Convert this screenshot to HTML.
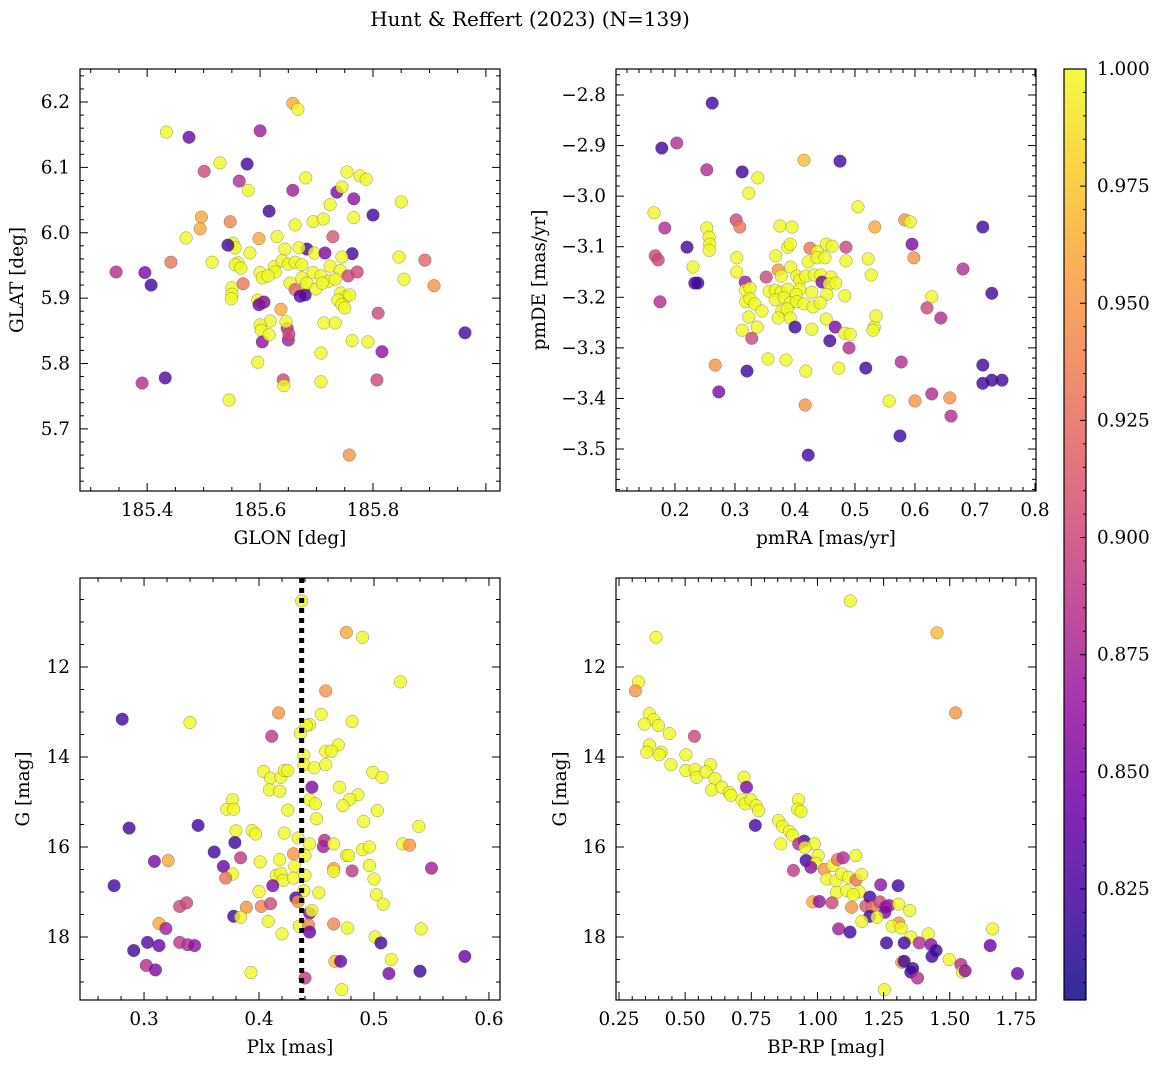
<!DOCTYPE html>
<html><head><meta charset="utf-8"><style>
html,body{margin:0;padding:0;background:#fff;}
svg{display:block;font-family:"DejaVu Serif","Liberation Serif",serif;}
</style></head><body>
<svg id="fig" width="1161" height="1068" viewBox="0 0 1161 1068" xmlns="http://www.w3.org/2000/svg">
<defs>
<linearGradient id="plasmaGrad" x1="0" y1="1" x2="0" y2="0">
<stop offset="0" stop-color="#0d0887"/><stop offset="0.1" stop-color="#41049d"/><stop offset="0.2" stop-color="#6a00a8"/><stop offset="0.3" stop-color="#8f0da4"/><stop offset="0.4" stop-color="#b12a90"/><stop offset="0.5" stop-color="#cc4778"/><stop offset="0.6" stop-color="#e16462"/><stop offset="0.7" stop-color="#f2844b"/><stop offset="0.8" stop-color="#fca636"/><stop offset="0.9" stop-color="#fcce25"/><stop offset="1" stop-color="#f0f921"/>
</linearGradient>
</defs>
<text x="530" y="26" font-size="20" text-anchor="middle">Hunt &amp; Reffert (2023) (N=139)</text>
</svg>
<script>
// ---- Panel 1: GLON vs GLAT ----
const glonVals=[185.434,185.474,185.600,185.658,185.667,185.529,185.577,185.501,185.563,185.579,185.658,185.681,185.736,185.754,185.777,185.788,185.766,185.850,185.800,185.616,185.496,185.547,185.494,185.469,185.694,185.712,185.766,185.724,185.745,185.662,185.598,185.630,185.552,185.556,185.543,185.729,185.683,185.644,185.669,185.696,185.715,185.763,185.745,185.582,185.515,185.442,185.345,185.396,185.407,185.561,185.556,185.566,185.625,185.627,185.639,185.650,185.662,185.674,185.694,185.708,185.724,185.742,185.756,185.772,185.722,185.733,185.846,185.855,185.892,185.674,185.676,185.680,185.683,185.699,185.710,185.550,185.550,185.549,185.570,185.600,185.604,185.614,185.653,185.662,185.671,185.743,185.752,185.759,185.738,185.745,185.750,185.908,185.963,185.596,185.604,185.598,185.607,185.618,185.637,185.648,185.650,185.646,185.651,185.600,185.602,185.604,185.616,185.596,185.809,185.713,185.733,185.763,185.791,185.816,185.708,185.641,185.642,185.708,185.807,185.545,185.758,185.432,185.391];
const glatVals=[6.154,6.146,6.156,6.198,6.189,6.107,6.105,6.094,6.079,6.065,6.065,6.084,6.062,6.093,6.087,6.082,6.052,6.047,6.027,6.033,6.024,6.017,6.006,5.992,6.017,6.021,6.023,6.043,6.070,6.012,5.991,5.994,5.984,5.977,5.981,5.994,5.975,5.975,5.977,5.969,5.969,5.968,5.963,5.969,5.955,5.955,5.940,5.939,5.920,5.954,5.951,5.946,5.948,5.940,5.957,5.952,5.955,5.951,5.939,5.934,5.949,5.942,5.934,5.940,5.926,5.929,5.963,5.929,5.958,5.931,5.913,5.905,5.923,5.914,5.923,5.916,5.906,5.899,5.922,5.939,5.931,5.934,5.923,5.913,5.903,5.908,5.902,5.905,5.897,5.890,5.885,5.919,5.847,5.897,5.893,5.890,5.894,5.865,5.883,5.854,5.836,5.864,5.845,5.859,5.851,5.833,5.844,5.802,5.877,5.862,5.862,5.835,5.833,5.818,5.816,5.775,5.766,5.772,5.775,5.744,5.660,5.778,5.770];
const prob1=[1,.84,.87,.96,1,1,.82,.9,.88,1,.87,1,.85,1,1,1,.86,1,.82,.82,.96,.94,.96,1,1,1,1,1,1,1,.96,1,1,1,.82,.91,.82,1,1,1,.85,.82,1,1,1,.93,.88,.85,.82,1,1,1,1,1,1,1,1,1,1,1,1,1,.9,.9,1,1,1,1,.92,1,1,.83,1,1,1,1,1,1,.93,1,1,1,1,.92,.83,1,1,1,1,1,1,.95,.82,1,1,.84,.86,1,.96,.88,.87,1,.9,1,1,.86,1,1,.9,1,1,1,1,.86,1,.9,1,1,.9,1,.95,.83,.88];
// ---- Panel 2: pmRA vs pmDE ----
const pmraVals=[.262,.178,.203,.312,.338,.323,.253,.415,.475,.165,.505,.302,.308,.253,.257,.258,.257,.375,.395,.533,.583,.592,.713,.183,.595,.598,.167,.172,.220,.303,.303,.388,.392,.425,.485,.452,.462,.437,.422,.437,.450,.485,.522,.527,.230,.368,.372,.377,.352,.393,.403,.408,.418,.432,.443,.460,.445,.457,.468,.233,.238,.317,.317,.325,.357,.367,.377,.388,.408,.318,.325,.333,.367,.382,.402,.428,.453,.483,.175,.323,.345,.378,.392,.403,.415,.430,.442,.372,.387,.312,.337,.392,.400,.428,.452,.467,.458,.483,.492,.532,.535,.530,.628,.620,.643,.328,.490,.355,.385,.418,.473,.267,.320,.518,.577,.713,.713,.728,.745,.557,.600,.658,.417,.628,.660,.575,.273,.422,.728,.680];
const pmdeVals=[-2.816,-2.905,-2.895,-2.952,-2.964,-2.994,-2.948,-2.929,-2.931,-3.033,-3.021,-3.047,-3.061,-3.063,-3.081,-3.095,-3.107,-3.059,-3.061,-3.061,-3.047,-3.051,-3.061,-3.063,-3.095,-3.122,-3.118,-3.126,-3.101,-3.122,-3.150,-3.101,-3.095,-3.103,-3.101,-3.095,-3.099,-3.110,-3.130,-3.122,-3.122,-3.128,-3.124,-3.156,-3.140,-3.118,-3.146,-3.158,-3.160,-3.140,-3.158,-3.166,-3.158,-3.156,-3.156,-3.160,-3.170,-3.174,-3.172,-3.172,-3.172,-3.170,-3.186,-3.182,-3.188,-3.186,-3.190,-3.184,-3.184,-3.209,-3.203,-3.213,-3.205,-3.201,-3.194,-3.190,-3.194,-3.197,-3.209,-3.239,-3.227,-3.227,-3.211,-3.209,-3.213,-3.219,-3.211,-3.241,-3.223,-3.265,-3.259,-3.241,-3.259,-3.263,-3.243,-3.259,-3.286,-3.271,-3.273,-3.259,-3.237,-3.265,-3.199,-3.221,-3.241,-3.281,-3.300,-3.322,-3.324,-3.346,-3.340,-3.334,-3.346,-3.340,-3.328,-3.334,-3.370,-3.364,-3.364,-3.405,-3.405,-3.399,-3.413,-3.391,-3.435,-3.474,-3.387,-3.512,-3.192,-3.144];
const prob2=[.82,.82,.88,.82,1,1,.88,.97,.82,1,1,.9,.93,1,1,1,1,1,1,.96,.95,1,.82,.88,.85,.95,.9,.9,.82,1,1,1,1,.93,.9,1,1,1,1,1,1,1,1,1,1,1,.95,1,.9,1,1,1,1,1,1,1,.85,1,1,.82,.82,.87,1,1,1,1,1,1,1,1,1,1,1,1,1,1,1,1,.88,1,1,1,1,1,1,1,1,1,1,1,1,1,.82,1,1,.85,.82,1,1,1,1,1,1,.9,.88,.9,.88,1,1,1,1,.95,.82,.82,.88,.82,.82,.82,.82,1,.95,.95,.95,.88,.88,.82,.85,.82,.82,.88];
// ---- Panel 3: Plx vs G ----
const plxVals=[.4371,.476,.490,.523,.458,.417,.281,.340,.454,.481,.444,.441,.411,.436,.469,.458,.463,.439,.439,.448,.458,.404,.410,.419,.422,.425,.409,.418,.446,.470,.486,.479,.473,.444,.449,.450,.425,.499,.507,.503,.491,.377,.372,.378,.539,.287,.347,.380,.394,.397,.422,.434,.444,.457,.456,.465,.379,.361,.384,.309,.321,.401,.418,.430,.440,.476,.478,.490,.496,.525,.531,.431,.465,.465,.481,.496,.550,.369,.377,.371,.415,.419,.421,.430,.440,.500,.274,.412,.400,.439,.432,.434,.452,.502,.508,.331,.337,.389,.402,.410,.378,.384,.444,.446,.408,.313,.319,.435,.443,.465,.444,.477,.541,.420,.501,.506,.291,.303,.313,.331,.338,.344,.302,.310,.393,.466,.471,.515,.579,.513,.540,.440,.472];
const gmag3=[10.53,11.23,11.34,12.33,12.53,13.02,13.16,13.23,13.05,13.21,13.28,13.30,13.54,13.47,13.73,13.87,13.87,13.96,14.17,14.24,14.17,14.32,14.47,14.45,14.30,14.30,14.73,14.76,14.67,14.67,14.84,14.94,15.08,14.95,15.04,15.37,15.18,14.34,14.45,15.19,15.43,14.95,15.16,15.16,15.54,15.58,15.52,15.64,15.63,15.71,15.69,15.80,15.93,15.85,15.99,15.93,15.90,16.11,16.24,16.32,16.30,16.33,16.28,16.15,16.19,16.19,16.19,16.06,16.00,15.93,15.96,16.43,16.48,16.54,16.53,16.41,16.47,16.43,16.60,16.69,16.63,16.59,16.74,16.69,16.63,16.71,16.86,16.86,16.99,16.97,17.13,17.21,17.02,17.06,17.27,17.32,17.24,17.34,17.32,17.26,17.54,17.56,17.47,17.41,17.65,17.70,17.81,17.76,17.73,17.71,17.89,17.80,17.82,17.93,18.00,18.13,18.30,18.12,18.19,18.12,18.17,18.19,18.63,18.73,18.79,18.54,18.54,18.50,18.43,18.81,18.76,18.91,19.17];
const prob3=[1,.96,1,1,.95,.95,.82,1,1,1,1,1,.89,1,1,1,1,1,1,1,1,1,1,1,1,1,1,1,.85,1,1,1,1,1,1,1,1,1,1,1,1,1,1,1,1,.82,.82,1,1,1,1,1,1,.88,.87,1,.82,.82,.89,.85,.96,1,1,.95,1,1,1,1,1,1,.95,1,.96,1,.89,1,.87,.84,1,.93,1,1,1,1,1,1,.82,.85,1,1,.82,.95,1,1,1,.9,.9,.95,.94,.9,.82,1,.85,1,1,.96,.87,1,.94,.94,.84,1,1,1,1,.82,.82,.83,.84,.89,.88,.86,.88,.85,1,.97,.84,1,.84,.85,.82,.89,1];
const plxRef=[0.4371];
// ---- Panel 4: BP-RP vs G ----
const bprpVals=[1.124,1.452,.390,.324,.312,1.522,.365,.381,.399,.346,.440,.535,.365,.355,.409,.402,.503,.446,.503,.538,.543,.596,.579,.613,.600,.639,.667,.673,.723,.732,.715,.727,.749,.768,.778,.765,.928,.925,.938,.853,.868,.894,.906,.862,.950,.929,.988,.953,.957,1.003,.994,.975,.909,1.026,1.057,1.076,1.097,1.145,1.035,1.070,1.092,1.117,1.146,1.167,1.072,1.111,1.158,1.135,1.239,1.305,.982,1.007,1.055,1.129,1.183,1.198,1.208,1.236,1.258,1.271,1.255,1.307,1.349,1.198,1.225,1.168,1.307,1.282,1.316,1.080,1.123,1.353,1.419,1.662,1.261,1.328,1.385,1.429,1.448,1.433,1.653,1.498,1.319,1.328,1.360,1.353,1.378,1.542,1.548,1.558,1.756,1.253];
const gmag4=[10.53,11.24,11.34,12.33,12.53,13.02,13.04,13.17,13.30,13.27,13.48,13.54,13.73,13.89,13.89,13.95,13.95,14.17,14.30,14.28,14.45,14.17,14.33,14.48,14.73,14.67,14.79,14.85,14.45,14.67,14.95,15.04,14.95,15.08,15.19,15.52,14.95,15.16,15.21,15.41,15.54,15.65,15.74,15.93,15.87,15.93,15.93,16.01,16.30,16.19,16.36,16.45,16.52,16.50,16.41,16.28,16.24,16.19,16.71,16.75,16.60,16.67,16.73,16.61,17.01,16.97,16.99,17.06,16.84,16.86,17.22,17.21,17.24,17.34,17.31,17.11,17.33,17.22,17.33,17.30,17.45,17.27,17.41,17.54,17.56,17.65,17.69,17.76,17.80,17.82,17.89,18.00,17.93,17.82,18.13,18.13,18.13,18.17,18.30,18.43,18.19,18.50,18.56,18.54,18.70,18.78,18.91,18.61,18.78,18.75,18.81,19.17];
const prob4=[1,.97,1,1,.95,.95,1,1,1,1,1,.9,1,1,1,1,1,1,1,1,1,1,1,1,1,1,1,1,1,.85,1,1,1,1,1,.82,1,1,1,1,1,1,1,1,.82,.88,1,1,.82,1,1,.86,.89,.95,1,.93,.88,1,1,1,1,1,.93,1,1,1,1,1,.86,.82,.96,.86,.9,.95,.91,.82,.93,.9,.86,.87,.85,1,1,.82,1,1,.95,1,1,.87,.82,1,1,1,.82,.82,.88,.86,.82,.82,.84,1,.95,.82,.82,.82,.88,.88,1,.86,.84,1];
// ---- Colorbar ----
const cbarTicks=[0.825,0.850,0.875,0.900,0.925,0.950,0.975,1.000];
const pMin=0.8013, pMax=1.0;

const NS="http://www.w3.org/2000/svg";
const svg=document.getElementById('fig');
const FS=18.4;
function mk(tag,attrs,parent){const e=document.createElementNS(NS,tag);for(const k in attrs)e.setAttribute(k,attrs[k]);(parent||svg).appendChild(e);return e;}
const stops=[[13,8,135],[65,4,157],[106,0,168],[143,13,164],[177,42,144],[204,71,120],[225,100,98],[242,132,75],[252,166,54],[252,206,37],[240,249,33]];
function plasma(p){let t=(p-pMin)/(pMax-pMin);t=Math.max(0,Math.min(1,t))*10;const i=Math.min(9,Math.floor(t)),f=t-i;const a=stops[i],b=stops[i+1];return 'rgb('+[0,1,2].map(k=>Math.round(a[k]+(b[k]-a[k])*f)).join(',')+')';}
function fmt(v,d){return v.toFixed(d).replace('-','\u2212');}

function panel(cfg){
  const g=mk('g',{});
  
  
  const L=cfg.x0,R=cfg.x1,T=cfg.y0,B=cfg.y1;
  const sx=v=>L+(v-cfg.xmin)/(cfg.xmax-cfg.xmin)*(R-L);
  const sy=cfg.yinv? (v=>T+(v-cfg.ymin)/(cfg.ymax-cfg.ymin)*(B-T)) : (v=>B-(v-cfg.ymin)/(cfg.ymax-cfg.ymin)*(B-T));
  const clip='clip-'+cfg.name;
  const cp=mk('clipPath',{id:clip},g);mk('rect',{x:L,y:T,width:R-L,height:B-T},cp);
  const pts=mk('g',{'clip-path':'url(#'+clip+')'},g);
  const n=Math.min(cfg.xs.length,cfg.ys.length,cfg.ps.length);
  for(let i=0;i<n;i++){
    const c=mk('circle',{cx:sx(cfg.xs[i]).toFixed(1),cy:sy(cfg.ys[i]).toFixed(1),r:6.3,fill:plasma(cfg.ps[i]),'fill-opacity':0.8,stroke:'#3a3a3a','stroke-width':0.5,'stroke-opacity':0.55},pts);
    
    
  }
  if(cfg.vline){
    for(const v of cfg.vline){
      const ln=mk('line',{x1:sx(v),x2:sx(v),y1:T,y2:B,stroke:'#000','stroke-width':5,'stroke-dasharray':'5,5'},pts);
      
      
    }
  }
  const tk=mk('g',{stroke:'#000','stroke-width':1},g);
  const eps=1e-9;
  for(let v=Math.ceil(cfg.xmin/cfg.xminor-eps)*cfg.xminor; v<=cfg.xmax+eps; v+=cfg.xminor){
    const x=sx(v);const isMaj=Math.abs(v/cfg.xmajor-Math.round(v/cfg.xmajor))<1e-6;const len=isMaj?8:4;
    mk('line',{x1:x,x2:x,y1:B,y2:B-len},tk);mk('line',{x1:x,x2:x,y1:T,y2:T+len},tk);
  }
  for(let v=Math.ceil(cfg.ymin/cfg.yminor-eps)*cfg.yminor; v<=cfg.ymax+eps; v+=cfg.yminor){
    const y=sy(v);const isMaj=Math.abs(v/cfg.ymajor-Math.round(v/cfg.ymajor))<1e-6;const len=isMaj?8:4;
    mk('line',{x1:L,x2:L+len,y1:y,y2:y},tk);mk('line',{x1:R,x2:R-len,y1:y,y2:y},tk);
  }
  for(const v of cfg.xticks){
    const t=mk('text',{x:sx(v),y:B+25,'font-size':FS,'text-anchor':'middle'},g);t.textContent=fmt(v,cfg.xdec);
    
    
  }
  for(const v of cfg.yticks){
    const t=mk('text',{x:L-10,y:sy(v)+6,'font-size':FS,'text-anchor':'end'},g);t.textContent=fmt(v,cfg.ydec);
    
    
  }
  mk('rect',{x:L,y:T,width:R-L,height:B-T,fill:'none',stroke:'#000','stroke-width':1.2},g);
  const xl=mk('text',{x:(L+R)/2,y:B+53,'font-size':FS,'text-anchor':'middle'},g);xl.textContent=cfg.xlabel;
  
  
  const yx=cfg.ylabx,yy=(T+B)/2;
  const yl=mk('text',{x:yx,y:yy,'font-size':FS,'text-anchor':'middle',transform:'rotate(-90 '+yx+' '+yy+')'},g);yl.textContent=cfg.ylabel;
  
  
}

panel({name:'glon-glat-panel',x0:80,x1:500,y0:69,y1:491,xmin:185.281,xmax:186.025,ymin:5.605,ymax:6.2505,xmajor:0.2,xminor:0.05,ymajor:0.1,yminor:0.02,xticks:[185.4,185.6,185.8],yticks:[5.7,5.8,5.9,6.0,6.1,6.2],xdec:1,ydec:1,xlabel:'GLON [deg]',ylabel:'GLAT [deg]',ylabx:23,xs:glonVals,ys:glatVals,ps:prob1});
panel({name:'proper-motion-panel',x0:616,x1:1036,y0:69,y1:491,xmin:0.1017,xmax:0.8017,ymin:-3.583,ymax:-2.7486,xmajor:0.1,xminor:0.02,ymajor:0.1,yminor:0.02,xticks:[0.2,0.3,0.4,0.5,0.6,0.7,0.8],yticks:[-3.5,-3.4,-3.3,-3.2,-3.1,-3.0,-2.9,-2.8],xdec:1,ydec:1,xlabel:'pmRA [mas/yr]',ylabel:'pmDE [mas/yr]',ylabx:545,xs:pmraVals,ys:pmdeVals,ps:prob2});
panel({name:'parallax-magnitude-panel',x0:80,x1:500,y0:578,y1:1000,xmin:0.2443,xmax:0.6096,ymin:10.022,ymax:19.4,yinv:true,xmajor:0.1,xminor:0.02,ymajor:2,yminor:0.5,xticks:[0.3,0.4,0.5,0.6],yticks:[12,14,16,18],xdec:1,ydec:0,xlabel:'Plx [mas]',ylabel:'G [mag]',ylabx:29,xs:plxVals,ys:gmag3,ps:prob3,vline:plxRef});
panel({name:'color-magnitude-panel',x0:616,x1:1036,y0:578,y1:1000,xmin:0.2387,xmax:1.826,ymin:10.022,ymax:19.4,yinv:true,xmajor:0.25,xminor:0.05,ymajor:2,yminor:0.5,xticks:[0.25,0.5,0.75,1.0,1.25,1.5,1.75],yticks:[12,14,16,18],xdec:2,ydec:0,xlabel:'BP-RP [mag]',ylabel:'G [mag]',ylabx:566,xs:bprpVals,ys:gmag4,ps:prob4});

(function(){
  const g=mk('g',{});
  
  
  const L=1064,R=1086,T=69,B=1000;
  const sy=v=>B-(v-pMin)/(pMax-pMin)*(B-T);
  mk('rect',{x:L,y:T,width:R-L,height:B-T,fill:'url(#plasmaGrad)','fill-opacity':0.85},g);
  for(let k=Math.ceil(pMin/0.005);k*0.005<=pMax+1e-9;k++){
    const v=k*0.005,y=sy(v);const maj=(k%5===0);
    mk('line',{x1:R,x2:R-(maj?6:3),y1:y,y2:y,stroke:'#000','stroke-width':1},g);
  }
  for(const v of cbarTicks){
    const t=mk('text',{x:R+11,y:sy(v)+6,'font-size':FS},g);t.textContent=v.toFixed(3);
    
    
  }
  mk('rect',{x:L,y:T,width:R-L,height:B-T,fill:'none',stroke:'#000','stroke-width':1.2},g);
})();
</script>
</body></html>
